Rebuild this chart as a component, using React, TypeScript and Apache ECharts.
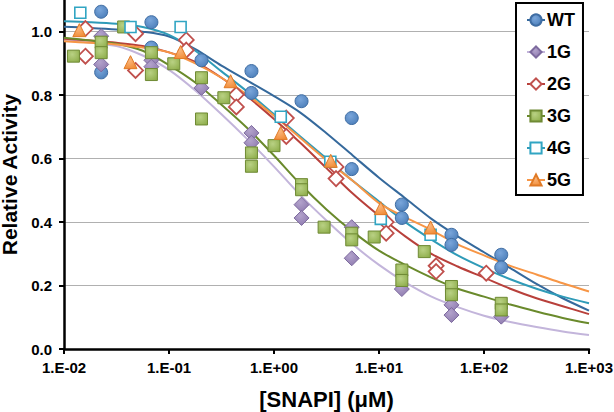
import React, { useEffect, useRef } from 'react';
import * as echarts from 'echarts';

const seriesNames = ['WT', '1G', '2G', '3G', '4G', '5G'];
const xTickLabels = ['1.E-02', '1.E-01', '1.E+00', '1.E+01', '1.E+02', '1.E+03'];
const yTickLabels = ['0.0', '0.2', '0.4', '0.6', '0.8', '1.0'];

// measured points
const wtX = [0.0226, 0.0226, 0.068, 0.068, 0.204, 0.61, 0.61, 1.83, 5.5, 5.5, 16.5, 16.5, 49, 49, 146, 146];
const wtY = [1.063, 0.872, 1.03, 0.95, 0.91, 0.876, 0.807, 0.781, 0.728, 0.567, 0.455, 0.413, 0.36, 0.328, 0.297, 0.257];

const g1X = [0.0226, 0.0226, 0.068, 0.068, 0.204, 0.61, 0.61, 1.83, 1.83, 5.5, 5.5, 16.5, 49, 49, 146];
const g1Y = [0.986, 0.897, 0.91, 0.89, 0.823, 0.681, 0.65, 0.455, 0.413, 0.384, 0.286, 0.189, 0.139, 0.107, 0.102];

const g2X = [0.016, 0.016, 0.048, 0.048, 0.146, 0.146, 0.438, 0.438, 1.31, 1.31, 3.9, 3.9, 11.7, 11.7, 35, 35, 105];
const g2Y = [1.01, 0.923, 0.994, 0.878, 0.974, 0.942, 0.802, 0.763, 0.728, 0.67, 0.574, 0.537, 0.4, 0.365, 0.262, 0.244, 0.239];

const g3X = [0.0123, 0.0226, 0.0226, 0.037, 0.068, 0.068, 0.111, 0.204, 0.204, 0.333, 0.61, 0.61, 1.0, 1.83, 1.83, 3.0, 5.5, 5.5, 9.0, 16.5, 16.5, 27, 49, 49, 146, 146];
const g3Y = [0.923, 0.967, 0.934, 1.015, 0.934, 0.865, 0.899, 0.855, 0.725, 0.792, 0.618, 0.576, 0.641, 0.518, 0.502, 0.384, 0.365, 0.344, 0.353, 0.249, 0.216, 0.307, 0.197, 0.171, 0.144, 0.123];

const g4X = [0.0143, 0.043, 0.129, 1.16, 3.44, 10.4, 31];
const g4Y = [1.06, 1.015, 1.015, 0.732, 0.59, 0.41, 0.36];

const g5X = [0.014, 0.043, 0.129, 0.386, 1.16, 3.47, 10.4, 31];
const g5Y = [1.005, 0.904, 0.936, 0.844, 0.681, 0.593, 0.444, 0.383];

// fitted curves
const curveX = [0.01, 0.0178, 0.0316, 0.0562, 0.1, 0.178, 0.316, 0.562, 1, 1.78, 3.16, 5.62, 10, 17.8, 31.6, 56.2, 100, 178, 316, 562, 1000];
const wtCurve = [1.016, 1.012, 1.007, 1.0, 0.985, 0.945, 0.893, 0.845, 0.797, 0.745, 0.68, 0.61, 0.54, 0.475, 0.41, 0.355, 0.305, 0.255, 0.205, 0.16, 0.121];
const g1Curve = [0.975, 0.965, 0.955, 0.925, 0.88, 0.815, 0.74, 0.66, 0.575, 0.485, 0.405, 0.33, 0.265, 0.21, 0.165, 0.132, 0.105, 0.085, 0.069, 0.055, 0.044];
const g2Curve = [0.978, 0.972, 0.965, 0.955, 0.935, 0.905, 0.855, 0.795, 0.725, 0.65, 0.57, 0.49, 0.42, 0.355, 0.3, 0.26, 0.225, 0.19, 0.16, 0.135, 0.11];
const g3Curve = [0.981, 0.972, 0.962, 0.94, 0.895, 0.84, 0.77, 0.695, 0.61, 0.52, 0.44, 0.37, 0.31, 0.265, 0.225, 0.19, 0.165, 0.14, 0.118, 0.098, 0.081];
const g4Curve = [1.033, 1.03, 1.025, 1.015, 0.99, 0.94, 0.875, 0.81, 0.74, 0.67, 0.6, 0.53, 0.465, 0.4, 0.345, 0.295, 0.255, 0.22, 0.19, 0.165, 0.144];
const g5Curve = [0.97, 0.965, 0.96, 0.95, 0.935, 0.9, 0.855, 0.8, 0.735, 0.665, 0.595, 0.53, 0.46, 0.415, 0.375, 0.33, 0.295, 0.262, 0.235, 0.207, 0.181];

const FONT = '"Liberation Sans", Arial, sans-serif';

const radial = (light: string, dark: string) => ({
  type: 'radial', x: 0.4, y: 0.35, r: 0.75,
  colorStops: [{ offset: 0, color: light }, { offset: 1, color: dark }],
});

const styles = [
  { symbol: 'circle', size: 13, fill: radial('#7aa6db', '#4a7db8'), border: '#3f6da3', bw: 1, line: '#35699c' },
  { symbol: 'diamond', size: 15, fill: radial('#b3a3cc', '#8c78ad'), border: '#7d6a9e', bw: 1, line: '#c3b5db' },
  { symbol: 'diamond', size: 15, fill: '#ffffff', border: '#c0504d', bw: 1.8, line: '#b8403b' },
  { symbol: 'rect', size: 12, fill: radial('#b9d184', '#8fae4c'), border: '#6f8a34', bw: 1, line: '#6a8a2c' },
  { symbol: 'rect', size: 11, fill: '#ffffff', border: '#31a5c3', bw: 1.6, line: '#2f9bb8' },
  { symbol: 'triangle', size: 13, fill: radial('#fbb77e', '#f08a33'), border: '#e07a26', bw: 1, line: '#f79646' },
];

const pointSets = [[wtX, wtY], [g1X, g1Y], [g2X, g2Y], [g3X, g3Y], [g4X, g4Y], [g5X, g5Y]];
const curves = [wtCurve, g1Curve, g2Curve, g3Curve, g4Curve, g5Curve];

export default function App() {
  const ref = useRef<HTMLDivElement>(null);
  useEffect(() => {
    document.body.style.margin = '0';
    if (!ref.current) return;
    const chart = echarts.init(ref.current, undefined, { renderer: 'svg' });
    const lineSeries = seriesNames.map((name, i) => ({
      name,
      type: 'line',
      data: curveX.map((x, k) => [x, curves[i][k]]),
      smooth: 0.3,
      showSymbol: false,
      symbol: styles[i].symbol,
      symbolSize: styles[i].size,
      itemStyle: { color: styles[i].fill, borderColor: styles[i].border, borderWidth: styles[i].bw },
      lineStyle: { color: styles[i].line, width: 2 },
      silent: true,
      z: 2,
    }));
    const scatterSeries = seriesNames.map((name, i) => ({
      name,
      type: 'scatter',
      data: pointSets[i][0].map((x, k) => [x, pointSets[i][1][k]]),
      symbol: styles[i].symbol,
      symbolSize: styles[i].size,
      itemStyle: { color: styles[i].fill, borderColor: styles[i].border, borderWidth: styles[i].bw, opacity: 1 },
      silent: true,
      z: 3,
    }));
    chart.setOption({
      animation: false,
      backgroundColor: '#ffffff',
      grid: { left: 64, right: 25, top: 0, bottom: 63, containLabel: false, outerBoundsMode: 'none' },
      xAxis: {
        type: 'log',
        logBase: 10,
        min: 0.01,
        max: 1000,
        name: '[SNAPI] (μM)',
        nameLocation: 'middle',
        nameGap: 39,
        nameTextStyle: { fontFamily: FONT, fontWeight: 'bold', fontSize: 22, color: '#000' },
        axisLine: { lineStyle: { color: '#000', width: 2.5 } },
        axisTick: { show: true, length: 5, lineStyle: { color: '#000', width: 2 } },
        axisLabel: {
          margin: 11,
          fontFamily: FONT, fontWeight: 'bold', fontSize: 15, color: '#000',
          formatter: (v: number) => xTickLabels[Math.round(Math.log10(v)) + 2] ?? '',
        },
        splitLine: { show: false },
        minorTick: { show: false },
      },
      yAxis: {
        type: 'value',
        min: 0,
        max: 1.1,
        interval: 0.2,
        name: 'Relative Activity',
        nameLocation: 'middle',
        nameGap: 37,
        nameTextStyle: { fontFamily: FONT, fontWeight: 'bold', fontSize: 21, lineHeight: 21, padding: 0, color: '#000' },
        axisLine: { show: true, lineStyle: { color: '#000', width: 2.5 } },
        axisTick: { show: true, length: 5, lineStyle: { color: '#000', width: 2 } },
        axisLabel: {
          margin: 12,
          showMaxLabel: false,
          fontFamily: FONT, fontWeight: 'bold', fontSize: 15, color: '#000',
          formatter: (v: number) => {
            const idx = Math.round(v / 0.2);
            return Math.abs(v - idx * 0.2) < 1e-6 ? yTickLabels[idx] ?? '' : '';
          },
        },
        splitLine: { show: true, showMaxLine: false, showMinLine: false, lineStyle: { color: '#b0b0b0', width: 1 } },
      },
      legend: {
        data: seriesNames,
        orient: 'vertical',
        left: 516,
        top: 3,
        padding: [8, 8, 6, 10],
        itemGap: 14,
        itemWidth: 18,
        itemHeight: 14,
        selectedMode: false,
        backgroundColor: '#ffffff',
        borderColor: '#000',
        borderWidth: 2,
        borderRadius: 0,
        textStyle: { fontFamily: FONT, fontWeight: 'bold', fontSize: 18, color: '#000', padding: [0, 0, 0, -3] },
      },
      series: [...lineSeries, ...scatterSeries],
    });
    return () => chart.dispose();
  }, []);
  return <div ref={ref} style={{ width: 614, height: 412 }} />;
}
